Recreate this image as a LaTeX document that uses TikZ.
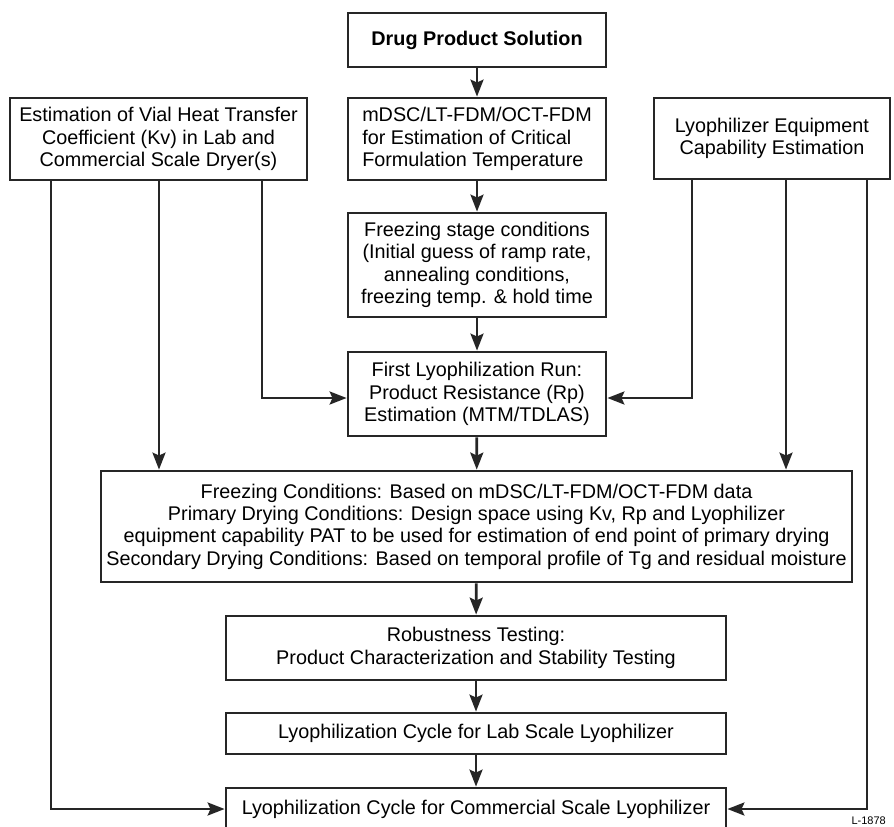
\documentclass[tikz,border=0pt]{standalone}
\usepackage{fontspec}
\setmainfont{Liberation Sans}
\usetikzlibrary{arrows.meta}
\begin{document}
\begin{tikzpicture}[x=1pt,y=-1pt,
  box/.style={draw=black!85,line width=2.8pt,rectangle,inner sep=0pt,align=center,
    font=\fontsize{19.8}{22.3}\selectfont},
  conn/.style={draw=black!85,line width=2.8pt},
  arr/.style={conn,-{Stealth[length=17pt,width=13pt,inset=3pt]}}]
\useasboundingbox (0,0) rectangle (894,827);
\begin{scope}
\clip (0,0) rectangle (894,827);
\node[box,minimum width=258pt,minimum height=54pt] (drug) at (477,40) {\bfseries Drug Product Solution};
\node[box,minimum width=258pt,minimum height=82pt,align=left] (mdsc) at (477,139) {mDSC/LT-FDM/OCT-FDM\\for Estimation of Critical\\Formulation Temperature};
\node[box,minimum width=258pt,minimum height=104pt] (frz) at (477,265) {Freezing stage conditions\\(Initial guess of ramp rate,\\annealing conditions,\\freezing temp. \& hold time};
\node[box,minimum width=258pt,minimum height=84pt] (first) at (477,394) {First Lyophilization Run:\\Product Resistance (Rp)\\Estimation (MTM/TDLAS)};
\node[box,minimum width=297pt,minimum height=82pt] (kv) at (158.5,139) {Estimation of Vial Heat Transfer\\Coefficient (Kv) in Lab and\\Commercial Scale Dryer(s)};
\node[box,minimum width=236pt,minimum height=81pt] (equip) at (772,138.5) {Lyophilizer Equipment\\Capability Estimation};
\node[box,minimum width=751pt,minimum height=111pt] (big) at (476.5,526.5) {Freezing Conditions: Based on mDSC/LT-FDM/OCT-FDM data\\Primary Drying Conditions: Design space using Kv, Rp and Lyophilizer\\equipment capability PAT to be used for estimation of end point of primary drying\\Secondary Drying Conditions: Based on temporal profile of Tg and residual moisture};
\node[box,minimum width=500pt,minimum height=64pt] (rob) at (476,648) {Robustness Testing:\\Product Characterization and Stability Testing};
\node[box,minimum width=500pt,minimum height=41pt] (lab) at (476,733.5) {Lyophilization Cycle for Lab Scale Lyophilizer};
\node[box,minimum width=500pt,minimum height=42pt] (comm) at (476,809) {Lyophilization Cycle for Commercial Scale Lyophilizer};
\node[anchor=base east,inner sep=0pt,font=\fontsize{11}{13}\selectfont] (lbl) at (886,824.5) {L-1878};

\draw[arr] (drug) -- (mdsc);
\draw[arr] (mdsc) -- (frz);
\draw[arr] (frz) -- (first);
\draw[arr] (first) -- (big);
\draw[arr] (big) -- (rob);
\draw[arr] (rob) -- (lab);
\draw[arr] (lab) -- (comm);

\draw[arr] ([xshift=-107.5pt]kv.south) |- (comm.west);
\draw[arr] ([xshift=0.5pt]kv.south) -- ([xshift=0.5pt]kv.south |- big.north);
\draw[arr] ([xshift=103.5pt]kv.south) |- ([yshift=-4pt]first.west);
\draw[arr] ([xshift=-80pt]equip.south) |- ([yshift=-4pt]first.east);
\draw[arr] ([xshift=14pt]equip.south) -- ([xshift=14pt]equip.south |- big.north);
\draw[arr] ([xshift=95pt]equip.south) |- (comm.east);
\end{scope}
\end{tikzpicture}
\end{document}
